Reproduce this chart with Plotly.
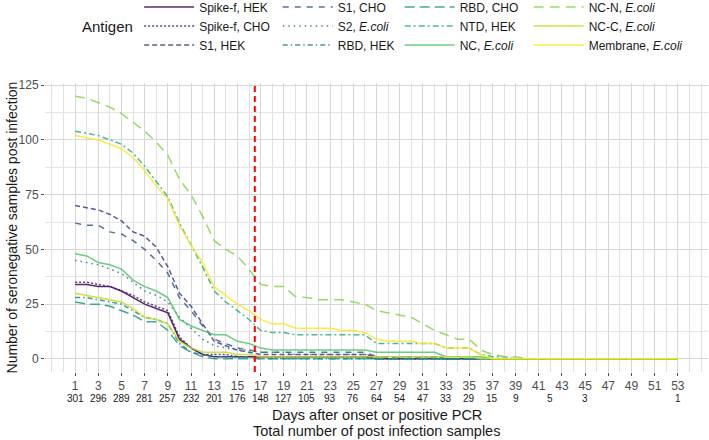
import plotly.graph_objects as go

days = list(range(1, 54))

def pad(vals):
    return vals + [0] * (53 - len(vals))

antigens = ["Spike-f, HEK", "Spike-f, CHO", "S1, HEK", "S1, CHO", "S2, <i>E.coli</i>", "RBD, HEK",
            "RBD, CHO", "NTD, HEK", "NC, <i>E.coli</i>", "NC-N, <i>E.coli</i>", "NC-C, <i>E.coli</i>",
            "Membrane, <i>E.coli</i>"]

spike_hek = pad([34, 34, 33, 33, 31, 28, 25, 23, 21, 9, 5, 2, 1, 1, 1, 1, 1, 1, 1, 1, 1, 1, 1, 1, 1, 1])
spike_cho = pad([35, 35, 34, 33, 31, 29, 26, 24, 22, 10, 5, 2, 2, 2, 1, 1, 1, 1, 1, 1, 1, 1, 1, 1, 1, 1])
s1_hek = pad([70, 69, 68, 66, 63, 58, 56, 51, 42, 30, 24, 16, 8, 6, 4, 3, 2, 2, 2, 2, 2, 2, 2, 2, 2, 2,
              1, 1, 1, 1, 1, 1])
s1_cho = pad([62, 61, 61, 58, 57, 54, 50, 45, 39, 28, 22, 15, 9, 7, 5, 4, 3, 3, 3, 3, 3, 3, 3, 3, 3, 3,
              1, 1, 1, 1, 1, 1])
s2_ecoli = pad([45, 44, 43, 41, 39, 35, 31, 29, 26, 19, 14, 9, 6, 5, 4, 4, 3, 3, 3, 2, 2, 2, 2, 2, 2, 2,
                1, 1, 1, 1, 1, 1])
rbd_hek = pad([28, 28, 27, 26, 25, 22, 19, 18, 16, 7, 3, 2, 1, 1, 1, 1])
rbd_cho = pad([26, 25, 25, 24, 22, 20, 17, 17, 13, 6, 3, 1])
ntd_hek = pad([104, 103, 102, 100, 98, 94, 88, 81, 74, 62, 52, 42, 31, 26, 22, 18, 13, 12, 12, 11,
               11, 11, 11, 11, 11, 11, 7, 7, 7, 7, 7, 7, 5, 5, 5, 2, 1, 1])
nc_ecoli = pad([48, 47, 44, 43, 41, 36, 33, 31, 28, 18, 15, 13, 11, 11, 8, 7, 5, 4, 4, 4, 4, 4, 4, 4, 4,
                4, 3, 3, 3, 3, 3, 3, 1, 1, 1, 1])
ncn_ecoli = pad([120, 119, 117, 115, 112, 108, 104, 99, 93, 82, 75, 65, 54, 50, 47, 41, 34, 33, 33, 28.5,
                 28, 27, 27, 27, 26, 25, 22, 21, 20, 19, 16, 13, 11, 9, 9, 4, 2, 1, 1])
ncc_ecoli = pad([30, 29, 28, 27, 26, 23, 19, 18, 16, 8, 5, 3, 3, 3, 2, 2, 1, 1, 1, 1, 1, 1, 1, 1, 1, 1,
                 1, 1, 1, 1, 1, 1, 1, 1, 1])
membrane_ecoli = pad([102, 101, 100, 98, 96, 92, 86, 79, 73, 61, 52, 44, 33, 29, 25, 22, 18, 16, 16, 14,
                      14, 14, 14, 13, 13, 12, 9, 8, 8, 8, 7, 7, 5, 5, 5, 2])

series = [spike_hek, spike_cho, s1_hek, s1_cho, s2_ecoli, rbd_hek, rbd_cho, ntd_hek, nc_ecoli,
          ncn_ecoli, ncc_ecoli, membrane_ecoli]

tick_days = list(range(1, 54, 2))
count_days = [1, 3, 5, 7, 9, 11, 13, 15, 17, 19, 21, 23, 25, 27, 29, 31, 33, 35, 37, 39, 42, 45, 53]
count_labels = ["301", "296", "289", "281", "257", "232", "201", "176", "148", "127", "105", "93", "76",
                "64", "54", "47", "33", "29", "15", "9", "5", "3", "1"]
cutoff_day = 16.5

colors = ["#440154", "#482173", "#433E85", "#38598C", "#2D708E", "#25858E", "#1E9B8A", "#2BB07F",
          "#51C56A", "#85D54A", "#C2DF23", "#FDE725"]
dashes = ["solid", "2px,2px", "5px,3px", "6px,6px", "1.5px,4px", "5px,3px,1.5px,3px", "10px,5px",
          "6px,3px,2px,3px", "solid", "10px,6px", "solid", "solid"]
legend_ids = ["legend", "legend", "legend", "legend2", "legend2", "legend2",
              "legend3", "legend3", "legend3", "legend4", "legend4", "legend4"]

FONT = "Liberation Sans, Arial, sans-serif"
fig = go.Figure()
for name, vals, c, d, lg in zip(antigens, series, colors, dashes, legend_ids):
    fig.add_trace(go.Scatter(x=days, y=vals, mode="lines", name=name, legend=lg,
                             line=dict(color=c, dash=d, width=1.5), opacity=0.85))

fig.add_shape(type="line", x0=cutoff_day, x1=cutoff_day, y0=0, y1=1, xref="x", yref="paper",
              line=dict(color="#ff0000", width=2, dash="6px,4px"))

for d, lab in zip(count_days, count_labels):
    fig.add_annotation(x=d, y=-0.09, xref="x", yref="paper", text=lab, showarrow=False,
                       font=dict(size=10, color="#1a1a1a", family=FONT), yanchor="middle")

fig.add_annotation(x=0.053, y=1.194, xref="paper", yref="paper", text="Antigen", showarrow=False,
                   xanchor="left", yanchor="middle", font=dict(size=15, color="#1a1a1a", family=FONT))

fig.add_annotation(x=0.5, y=-0.149, xref="paper", yref="paper", text="Days after onset or positive PCR",
                   showarrow=False, xanchor="center", yanchor="middle",
                   font=dict(size=14.5, color="#1a1a1a", family=FONT))
fig.add_annotation(x=0.5, y=-0.204, xref="paper", yref="paper",
                   text="Total number of post infection samples",
                   showarrow=False, xanchor="center", yanchor="middle",
                   font=dict(size=14.5, color="#1a1a1a", family=FONT))
fig.add_annotation(x=-0.0498, y=0.5, xref="paper", yref="paper",
                   text="Number of seronegative samples post infection", textangle=-90,
                   showarrow=False, xanchor="center", yanchor="middle",
                   font=dict(size=14, color="#1a1a1a", family=FONT))

leg_common = dict(orientation="v", xanchor="left", yanchor="top", y=1.313, tracegroupgap=0,
                  font=dict(size=12, color="#1a1a1a", family=FONT), itemwidth=50,
                  bgcolor="rgba(0,0,0,0)")
lx = [0.142, 0.351, 0.535, 0.7295]
fig.update_layout(
    width=709, height=440,
    margin=dict(l=45, r=1, t=83, b=68, autoexpand=False),
    paper_bgcolor="white", plot_bgcolor="white",
    font=dict(family=FONT, color="#1a1a1a"),
    legend=dict(x=lx[0], **leg_common),
    legend2=dict(x=lx[1], **leg_common),
    legend3=dict(x=lx[2], **leg_common),
    legend4=dict(x=lx[3], **leg_common),
    xaxis=dict(range=[-1.6, 55.6], tickmode="array", tickvals=tick_days,
               ticktext=[str(t) for t in tick_days], tickfont=dict(size=12, color="#4d4d4d"),
               showgrid=True, gridcolor="#d6d6d6", gridwidth=1, zeroline=False,
               ticks="outside", ticklen=3, tickcolor="#4d4d4d", automargin=False,
               minor=dict(tick0=1, dtick=1, showgrid=True, gridcolor="#e0e0e0", gridwidth=1)),
    yaxis=dict(range=[-6, 126], tick0=0, dtick=25, tickfont=dict(size=12, color="#4d4d4d"),
               showgrid=True, gridcolor="#d6d6d6", gridwidth=1, zeroline=False,
               ticks="outside", ticklen=3, tickcolor="#4d4d4d", automargin=False,
               minor=dict(tick0=0, dtick=12.5, showgrid=True, gridcolor="#e6e6e6", gridwidth=1)),
)
fig.write_html("out.html", config={"displayModeBar": False},
               post_script="document.body.style.margin='0';document.body.style.overflow='hidden';")
